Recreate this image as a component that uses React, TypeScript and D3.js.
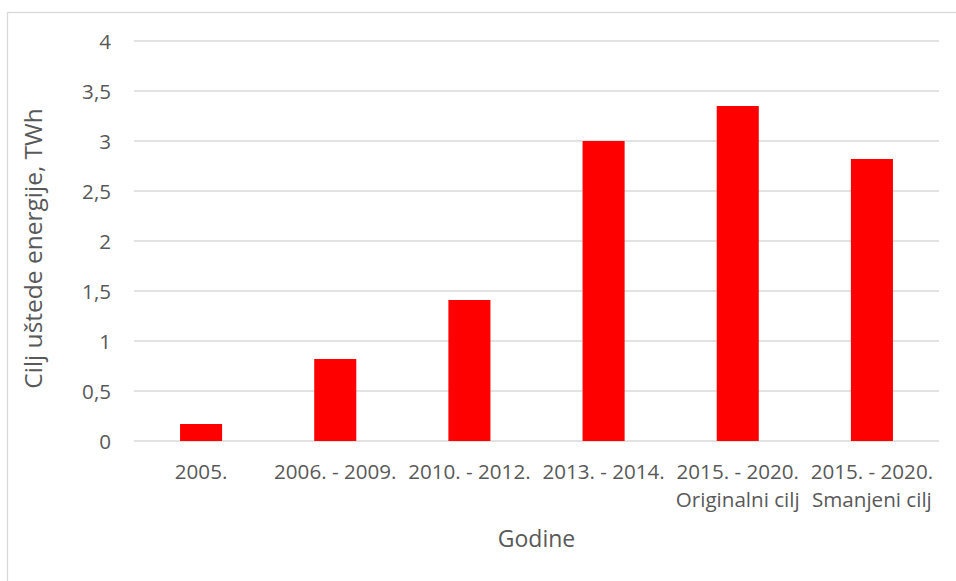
import React from "react";
import * as d3 from "d3";

const categories: string[][] = [
  ["2005."],
  ["2006. - 2009."],
  ["2010. - 2012."],
  ["2013. - 2014."],
  ["2015. - 2020.", "Originalni cilj"],
  ["2015. - 2020.", "Smanjeni cilj"],
];
const values: number[] = [0.17, 0.82, 1.41, 3.0, 3.35, 2.82];
const yTicks: number[] = [0, 0.5, 1, 1.5, 2, 2.5, 3, 3.5, 4];
const yTitle = "Cilj uštede energije, TWh";
const xTitle = "Godine";

const W = 956;
const H = 581;
const FONT = "'Open Sans', sans-serif";
const TEXT = "#595959";
const GRID = "#d9d9d9";

export default function App() {
  const left = 134;
  const right = 939;
  const top = 41;
  const bottom = 441;
  const pi = 1 - 1 / 3.19;
  const x = d3
    .scaleBand<number>()
    .domain(categories.map((_, i) => i))
    .range([left, right])
    .paddingInner(pi)
    .paddingOuter(pi / 2);
  const y = d3.scaleLinear().domain([0, 4]).range([bottom, top]);
  const fmt = (v: number) => String(v).replace(".", ",");
  const tickSize = 20.6;

  return (
    <svg
      width={W}
      height={H}
      style={{ position: "absolute", left: 0, top: 0, background: "#fff" }}
      fontFamily={FONT}
    >
      <rect x={7.5} y={12.5} width={1000} height={700} fill="#fff" stroke={GRID} strokeWidth={1.3} />
      {yTicks.map((t) => (
        <g key={t}>
          <line x1={left} x2={right} y1={y(t)} y2={y(t)} stroke={GRID} strokeWidth={1.5} />
          <text
            x={111}
            y={y(t)}
            textAnchor="end"
            dominantBaseline="central"
            fontSize={tickSize}
            fill={TEXT}
          >
            {fmt(t)}
          </text>
        </g>
      ))}
      {values.map((v, i) => (
        <rect
          key={i}
          x={x(i)!}
          y={y(v)}
          width={x.bandwidth()}
          height={y(0) - y(v)}
          fill="#ff0000"
        />
      ))}
      {categories.map((lines, i) => (
        <text
          key={i}
          x={x(i)! + x.bandwidth() / 2}
          textAnchor="middle"
          fontSize={tickSize}
          fill={TEXT}
        >
          {lines.map((l, j) => (
            <tspan key={j} x={x(i)! + x.bandwidth() / 2} y={479 + j * 28}>
              {l}
            </tspan>
          ))}
        </text>
      ))}
      <text
        x={(left + right) / 2}
        y={547}
        textAnchor="middle"
        fontSize={23}
        fill={TEXT}
      >
        {xTitle}
      </text>
      <text
        transform={`translate(42, 248.5) rotate(-90)`}
        textAnchor="middle"
        fontSize={24.5}
        fill={TEXT}
      >
        {yTitle}
      </text>
    </svg>
  );
}
